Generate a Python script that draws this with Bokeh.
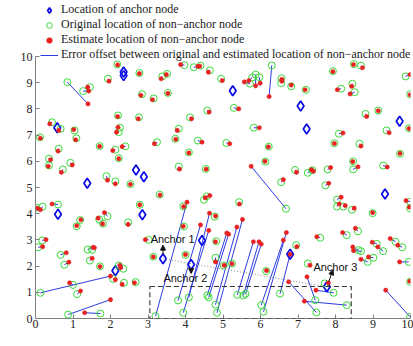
import math
from bokeh.plotting import figure
from bokeh.models import (Range1d, Legend, LegendItem, Label, Arrow, NormalHead,
                          ColumnDataSource, FixedTicker, BoxAnnotation)
from bokeh.embed import file_html
from bokeh.resources import INLINE

# ---------------- data ----------------
anchor_x = [2.35, 2.35, 0.58, 1.38, 2.68, 2.89, 0.60, 2.85, 3.40, 4.15, 4.44, 2.13,
            5.26, 7.07, 7.23, 9.71, 9.32, 6.79, 7.77]
anchor_y = [9.27, 9.41, 7.28, 5.16, 5.67, 5.41, 3.98, 3.96, 2.28, 2.06, 2.98, 1.82,
            8.69, 8.11, 7.23, 7.53, 4.75, 2.45, 1.21]

orig_x = [0.85, 1.27, 1.45, 2.18, 1.93, 2.77, 2.84, 3.15, 3.53, 3.38, 3.51, 3.97, 4.22, 4.40,
          4.65, 4.95, 4.58, 4.12, 3.82, 3.73, 4.33, 3.24, 2.20, 2.76, 2.25, 2.22, 1.04, 1.09,
          0.67, 0.44, 0.12, 1.71, 2.13, 2.40, 2.22, 0.62, 0.36, 0.36, 0.93, 0.73, 1.89, 2.13,
          2.53, 3.31, 3.82, 4.09, 4.54, 4.49, 4.56, 0.60, 0.19, 0.03, 1.10, 1.19, 1.70, 1.92,
          1.80, 2.47, 2.78, 3.02, 3.14, 0.18, 0.07, 0.67, 0.77, 1.39, 1.51, 1.45, 1.72, 0.13,
          1.00, 1.11, 0.87, 1.73, 2.22, 2.34, 2.07, 2.36, 2.67, 3.96, 3.94, 4.00, 4.78, 4.82,
          4.80, 5.02, 5.24, 3.20, 3.80, 4.09, 3.94, 4.58, 4.62, 4.80, 4.84, 5.38, 5.54, 5.60,
          6.08, 6.02, 6.52, 6.15, 6.95, 7.26, 7.49, 7.46, 8.30, 7.95, 7.71, 9.99, 9.99, 7.59,
          8.30, 8.60, 8.61, 8.68, 8.86, 9.01, 9.10, 9.27, 9.60, 9.78, 9.95, 8.04, 8.04, 8.21,
          8.44, 8.99, 9.99, 9.99, 7.73, 6.55, 6.92, 7.26, 7.38, 7.79, 8.47, 8.47, 9.27, 9.72,
          6.68, 5.43, 5.09, 6.22, 6.13, 7.97, 8.64, 8.09, 9.36, 9.96, 9.14, 8.80, 5.29, 5.82,
          6.30, 5.78, 5.87, 5.97, 5.72, 6.55, 6.56, 6.82, 7.21, 7.93, 8.15, 8.45, 8.51, 8.68,
          8.49, 9.87, 9.99]
orig_y = [9.02, 8.68, 8.83, 9.70, 9.15, 9.37, 8.56, 8.40, 8.61, 9.24, 9.34, 9.67, 9.59, 9.65,
          9.47, 9.15, 7.94, 7.68, 7.24, 6.86, 6.79, 6.73, 7.75, 7.68, 7.28, 7.11, 7.18, 6.88,
          7.24, 7.49, 6.92, 6.58, 6.44, 6.57, 6.12, 6.48, 6.10, 5.84, 5.94, 5.69, 5.43, 5.23,
          5.13, 4.73, 5.80, 6.34, 5.71, 4.53, 4.66, 4.35, 4.27, 4.23, 3.52, 3.76, 3.78, 3.90,
          3.62, 3.67, 4.34, 3.00, 2.36, 2.98, 2.72, 2.43, 2.05, 2.63, 2.62, 2.21, 1.99, 0.98,
          1.28, 0.93, 0.15, 0.19, 2.02, 1.90, 1.51, 1.36, 1.39, 3.51, 4.28, 2.43, 3.89, 2.95,
          2.32, 2.02, 2.10, 0.09, 0.69, 0.81, 0.22, 0.88, 0.81, 0.53, 0.22, 0.90, 0.88, 0.94,
          0.26, 0.51, 0.95, 1.81, 2.80, 2.10, 0.23, 0.70, 0.51, 0.98, 1.34, 0.06, 1.40, 3.08,
          3.18, 3.33, 2.61, 2.57, 2.16, 2.32, 2.85, 2.57, 2.93, 2.72, 2.16, 4.54, 4.27, 4.27,
          4.15, 4.02, 4.46, 4.20, 5.08, 5.20, 5.67, 5.56, 5.66, 5.69, 6.00, 5.69, 5.84, 6.29,
          4.19, 4.44, 6.70, 6.56, 5.99, 6.69, 6.67, 7.05, 7.18, 7.26, 7.94, 7.81, 8.04, 7.28,
          9.66, 9.20, 9.31, 9.21, 8.96, 8.98, 9.17, 8.86, 8.73, 9.44, 8.77, 8.96, 8.64, 9.65,
          9.71, 9.24, 8.56]
est_x = [1.40, 1.42, 1.39, 2.19, 1.96, 2.77, 2.81, 3.12, 3.53, 3.35, 3.49, 3.87, 4.33, 4.38,
         4.61, 4.98, 4.63, 4.16, 3.78, 3.74, 4.44, 3.17, 2.19, 2.74, 2.20, 2.16, 1.02, 1.07,
         0.62, 0.38, 0.13, 1.71, 2.06, 2.31, 2.22, 0.60, 0.40, 0.34, 0.98, 0.69, 1.92, 2.13,
         2.53, 3.32, 3.84, 4.09, 4.55, 4.53, 4.65, 0.44, 0.13, 0.05, 1.10, 1.21, 1.67, 1.84,
         1.79, 2.47, 2.78, 2.93, 3.14, 0.28, 0.19, 0.82, 0.89, 1.54, 1.57, 1.51, 1.72, 2.00,
         0.91, 1.20, 2.00, 1.31, 2.25, 2.27, 2.13, 2.31, 2.64, 3.94, 3.95, 4.00, 4.80, 4.80,
         4.80, 5.03, 5.24, 4.04, 4.40, 4.64, 4.62, 5.10, 5.15, 5.37, 5.52, 5.81, 5.96, 6.02,
         6.69, 6.61, 6.79, 6.16, 6.97, 7.32, 6.75, 7.24, 7.17, 7.48, 7.81, 9.34, 9.98, 7.50,
         8.19, 8.53, 8.46, 8.48, 8.68, 8.88, 8.98, 9.13, 9.46, 9.66, 9.71, 8.15, 8.10, 8.26,
         8.50, 8.99, 9.88, 9.97, 7.82, 6.61, 6.96, 7.36, 7.41, 7.87, 8.46, 8.60, 9.38, 9.72,
         5.75, 5.44, 5.18, 6.21, 6.12, 7.97, 8.68, 8.20, 9.43, 9.96, 9.14, 8.83, 5.42, 5.97,
         6.23, 5.69, 5.87, 5.99, 5.57, 6.57, 6.57, 6.82, 7.19, 7.93, 8.05, 8.43, 8.39, 8.72,
         8.48, 9.99, 9.99]
est_y = [8.19, 8.68, 8.83, 9.68, 9.06, 9.35, 8.52, 8.35, 8.59, 9.15, 9.31, 9.69, 9.62, 9.63,
         9.40, 9.08, 7.88, 7.62, 7.18, 6.84, 6.73, 6.67, 7.71, 7.62, 7.30, 7.11, 7.21, 6.82,
         7.18, 7.43, 6.88, 6.57, 6.41, 6.56, 6.10, 6.39, 6.06, 5.81, 5.86, 5.58, 5.28, 5.14,
         5.12, 4.71, 5.70, 6.32, 5.70, 4.61, 4.69, 4.37, 4.15, 4.21, 3.54, 3.77, 3.83, 4.04,
         3.61, 3.59, 4.34, 3.01, 2.35, 3.01, 2.74, 2.51, 2.15, 2.72, 2.70, 2.30, 1.98, 1.62,
         1.36, 1.05, 0.72, 0.22, 2.03, 1.94, 1.48, 1.30, 1.36, 3.52, 4.27, 2.44, 3.91, 2.93,
         2.16, 2.03, 2.09, 4.44, 3.57, 4.02, 3.36, 3.26, 3.22, 3.49, 3.78, 2.93, 2.93, 2.84,
         3.28, 2.99, 2.45, 1.83, 2.74, 2.03, 1.40, 1.59, 0.66, 1.08, 1.36, 1.08, 1.42, 3.12,
         3.28, 3.44, 2.73, 2.59, 2.26, 2.35, 2.91, 2.73, 3.05, 2.80, 2.16, 4.63, 4.37, 4.31,
         4.21, 4.04, 4.50, 4.25, 5.16, 5.30, 5.58, 5.68, 5.62, 5.76, 5.99, 5.79, 5.78, 6.30,
         5.81, 4.37, 6.67, 6.55, 6.00, 6.68, 6.58, 7.08, 7.09, 7.25, 7.93, 7.71, 8.00, 7.28,
         8.47, 9.08, 8.88, 8.98, 9.03, 9.06, 9.13, 8.91, 8.73, 9.42, 8.73, 8.86, 8.57, 9.57,
         9.69, 9.31, 8.54]

x_ticks = [0, 1, 2, 3, 4, 5, 6, 7, 8, 9, 10]
y_ticks = [0, 1, 2, 3, 4, 5, 6, 7, 8, 9, 10]
legend_labels = ["Location of anchor node",
                 "Original location of non\u2212anchor node",
                 "Estimate location of non\u2212anchor node",
                 "Error offset between original and estimated location of non\u2212anchor node"]
anchor_names = ["Anchor 1", "Anchor 2", "Anchor 3"]
box_region = [3.05, 8.42, 0.0, 1.22]

# ---------------- figure ----------------
# frame runs to the top of the page; data axis stops at 10 (legend sits above it)
PX_PER_UNIT = 26.2
y_top = 318 / PX_PER_UNIT
p = figure(width=413, height=346, output_backend="svg", toolbar_location=None,
           x_range=Range1d(0, 10), y_range=Range1d(0, y_top),
           min_border_left=35, min_border_right=3, min_border_top=0, min_border_bottom=28)
p.outline_line_color = None
p.grid.visible = False
p.background_fill_color = "white"

for ax, ticks in ((p.xaxis, x_ticks), (p.yaxis, y_ticks)):
    ax.ticker = FixedTicker(ticks=ticks)
    ax.major_label_text_font = "Liberation Serif"
    ax.major_label_text_font_size = "12px"
    ax.major_label_text_color = "#222222"
    ax.axis_line_color = "#808080"
    ax.major_tick_line_color = "#808080"
    ax.major_tick_in = 4
    ax.major_tick_out = 0
    ax.minor_tick_line_color = None
p.yaxis.bounds = (0, 10)
p.xaxis.major_label_standoff = 1
p.yaxis.major_label_standoff = 3

src = ColumnDataSource(dict(ox=orig_x, oy=orig_y, ex=est_x, ey=est_y))
asrc = ColumnDataSource(dict(x=anchor_x, y=anchor_y))

r_line = p.segment(x0="ox", y0="oy", x1="ex", y1="ey", source=src,
                   line_color="#2c3be0", line_width=1)
r_anchor = p.scatter("x", "y", source=asrc, marker="diamond", size=10,
                     line_color="#0a0ae8", fill_color=None, line_width=1.7)
r_orig = p.scatter("ox", "oy", source=src, marker="circle", size=7,
                   line_color="#3ad93a", fill_color=None, line_width=1)
r_est = p.scatter("ex", "ey", source=src, marker="circle", size=4.2,
                  line_color="#e82020", fill_color="#e82020", line_width=0.6)

# dotted line linking anchor 1 and anchor 3
p.line([anchor_x[8], anchor_x[18]], [anchor_y[8], anchor_y[18]],
       line_color="#8a8a8a", line_dash="1 2", line_width=1)

# dashed region
p.add_layout(BoxAnnotation(left=box_region[0], right=box_region[1],
                           bottom=box_region[2], top=box_region[3],
                           fill_alpha=0, line_color="#333333", line_alpha=1.0,
                           line_dash="5 3", line_width=1.1))

# annotations
def arrow(x0, y0, x1, y1):
    p.add_layout(Arrow(end=NormalHead(size=5, fill_color="#111111", line_color="#111111"),
                       x_start=x0, y_start=y0, x_end=x1, y_end=y1,
                       line_color="#111111", line_width=1))

arrow(3.40, 2.42, 3.40, 2.80)
arrow(4.15, 1.93, 4.15, 1.72)
arrow(7.82, 1.40, 7.93, 1.86)
for name, (lx, ly) in zip(anchor_names, [(3.07, 3.05), (3.41, 1.56), (7.41, 1.95)]):
    p.add_layout(Label(x=lx, y=ly, text=name, text_font="Liberation Sans",
                       text_font_size="11px", text_color="#111111",
                       text_baseline="middle", text_align="left"))

p.add_layout(Label(x=5.0, y=-0.80, text="X-axis", text_font="Liberation Serif",
                   text_font_size="14px", text_color="#222222",
                   text_align="center", text_baseline="middle"))
p.add_layout(Label(x=-0.59, y=4.89, text="Y-axis", text_font="Liberation Serif",
                   text_font_size="14px", text_color="#222222", angle=math.pi / 2,
                   text_align="center", text_baseline="middle"))

legend = Legend(items=[LegendItem(label=legend_labels[0], renderers=[r_anchor]),
                       LegendItem(label=legend_labels[1], renderers=[r_orig]),
                       LegendItem(label=legend_labels[2], renderers=[r_est]),
                       LegendItem(label=legend_labels[3], renderers=[r_line])],
                location=(3, 254))
legend.label_text_font = "Liberation Serif"
legend.label_text_font_size = "12px"
legend.label_text_color = "#222222"
legend.glyph_height = 14
legend.label_height = 14
legend.glyph_width = 18
legend.spacing = 0
legend.padding = 2
legend.margin = 0
legend.label_standoff = 3
legend.background_fill_alpha = 0
legend.border_line_alpha = 0
p.add_layout(legend)

open("out.html", "w").write(file_html(p, INLINE))
